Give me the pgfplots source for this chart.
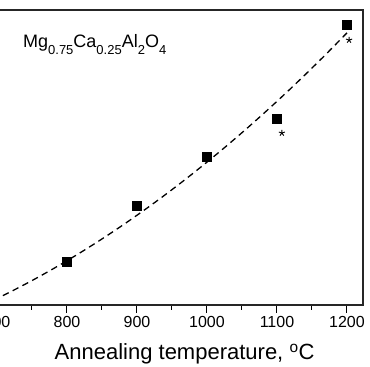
\documentclass[border=0pt]{standalone}
\usepackage{fontspec}
\setmainfont{Liberation Sans}
\usepackage{pgfplots}
\pgfplotsset{compat=1.18}
% low, fairly large subscripts for the formula
\newcommand{\sub}[1]{\raisebox{-6.5pt}{\fontsize{13}{15}\selectfont #1}}
\begin{document}
\begin{tikzpicture}
\begin{axis}[
  x=0.7pt, y=29.5pt,
  xmin=677, xmax=1223, ymin=0, ymax=10,
  axis line style={line width=1.2pt, black!85},
  xtick={700,800,...,1200},
  minor x tick num=1,
  ytick=\empty,
  xtick pos=bottom,
  tick align=outside,
  major tick length=8pt, minor tick length=5pt,
  every tick/.style={black, line width=1pt},
  /pgf/number format/assume math mode=true,
  /pgf/number format/1000 sep={},
  xticklabel style={font=\fontsize{16}{19}\selectfont},
  xlabel={Annealing temperature, \textsuperscript{o}C},
  xlabel style={font=\fontsize{22}{26}\selectfont,
    at={(axis description cs:0.533,-0.1864)}, anchor=base},
]
% quadratic trend through the measured points
\addplot[black, line width=1.3pt, dash pattern=on 6.5pt off 4.5pt, smooth, no marks]
  table {
  680  -0.005
  700  0.220
  720  0.455
  740  0.701
  760  0.957
  780  1.224
  800  1.501
  820  1.788
  840  2.086
  860  2.394
  880  2.713
  900  3.042
  920  3.381
  940  3.731
  960  4.091
  980  4.462
  1000 4.843
  1020 5.234
  1040 5.636
  1060 6.048
  1080 6.471
  1100 6.904
  1120 7.347
  1140 7.801
  1160 8.265
  1180 8.740
  1200 9.225
  };
% measured values
\addplot[only marks, mark=square*, mark size=4.5pt, black]
  table {
  800  1.458
  900  3.356
  1000 5.017
  1100 6.305
  1200 9.490
  };
% corrected values
\addplot[only marks, mark=star, mark size=3.2pt, black, line width=0.9pt]
  table {
  1107 5.83
  1203 8.98
  };
\node[anchor=base west, inner sep=0, font=\fontsize{18}{22}\selectfont]
  at (axis cs:737.1,8.712)
  {Mg\sub{0.75}Ca\sub{0.25}Al\sub{2}O\sub{4}};
\coordinate (bl) at (axis cs:704.3,-2.102);
\coordinate (tr) at (axis cs:1232.9,10.339);
\end{axis}
\pgfresetboundingbox
\path[use as bounding box] (bl) rectangle (tr);
\end{tikzpicture}
\end{document}
